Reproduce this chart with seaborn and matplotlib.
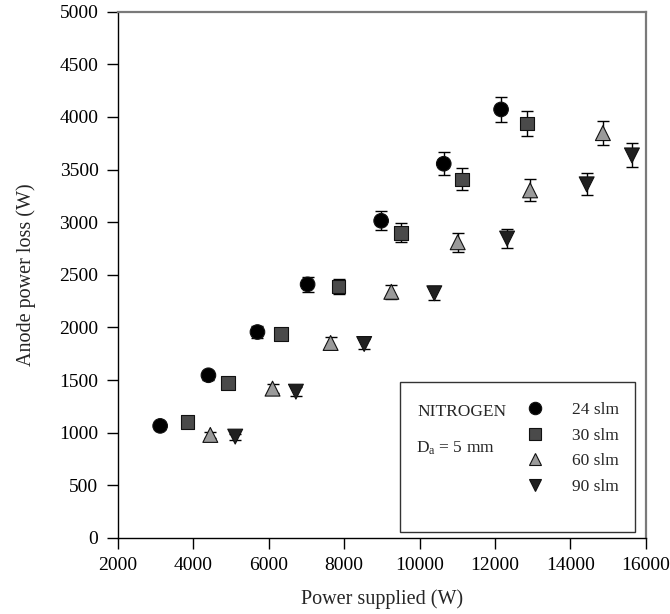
import numpy as np
import pandas as pd
import matplotlib
matplotlib.use("Agg")
import matplotlib.pyplot as plt
import seaborn as sns
from matplotlib.patches import Rectangle

# ---- data ----
flows = ["24 slm", "30 slm", "60 slm", "90 slm"]

P24 = [3120, 4400, 5700, 7030, 8980, 10640, 12160]
L24 = [1064, 1545, 1956, 2409, 3013, 3555, 4071]
E24 = [30, 45, 55, 70, 90, 108, 122]

P30 = [3840, 4920, 6330, 7850, 9500, 11130, 12850]
L30 = [1099, 1469, 1937, 2390, 2898, 3406, 3937]
E30 = [32, 44, 58, 72, 90, 105, 119]

P60 = [4450, 6100, 7640, 9250, 11010, 12930, 14860]
L60 = [978, 1418, 1852, 2338, 2809, 3302, 3846]
E60 = [28, 42, 54, 68, 90, 105, 117]

P90 = [5110, 6720, 8530, 10390, 12320, 14430, 15630]
L90 = [962, 1389, 1842, 2324, 2844, 3359, 3634]
E90 = [28, 40, 52, 68, 87, 105, 114]

xticks = [2000, 4000, 6000, 8000, 10000, 12000, 14000, 16000]
yticks = [0, 500, 1000, 1500, 2000, 2500, 3000, 3500, 4000, 4500, 5000]

series = {
    "24 slm": (P24, L24, E24),
    "30 slm": (P30, L30, E30),
    "60 slm": (P60, L60, E60),
    "90 slm": (P90, L90, E90),
}
rows = []
for f in flows:
    P, L, E = series[f]
    for p, l, e in zip(P, L, E):
        rows.append({"power": p, "loss": l, "err": e, "flow": f})
df = pd.DataFrame(rows)

palette = {"24 slm": "#000000", "30 slm": "#4a4a4a", "60 slm": "#9a9a9a", "90 slm": "#202020"}
markers = {"24 slm": "o", "30 slm": "s", "60 slm": "^", "90 slm": "v"}
sizes = {"24 slm": 110, "30 slm": 95, "60 slm": 115, "90 slm": 115}

# ---- style ----
sns.set_style("ticks")
plt.rcParams["font.family"] = ["Liberation Serif", "DejaVu Serif"]
plt.rcParams["mathtext.fontset"] = "custom"
plt.rcParams["mathtext.rm"] = "Liberation Serif"
plt.rcParams["mathtext.it"] = "Liberation Serif:italic"

fig = plt.figure(figsize=(6.7, 6.14), dpi=100)
ax = fig.add_axes([0.176, 0.124, 0.788, 0.857])

for f in flows:
    d = df[df["flow"] == f]
    ax.errorbar(d["power"], d["loss"], yerr=d["err"], fmt="none",
                ecolor="black", elinewidth=1.0, capsize=4, capthick=1.0, zorder=2)

sns.scatterplot(data=df, x="power", y="loss", hue="flow", style="flow",
                size="flow", sizes=sizes, palette=palette, markers=markers,
                hue_order=flows, style_order=flows, size_order=flows,
                edgecolor="#111111", linewidth=0.8, ax=ax, zorder=3, legend="full")

ax.set_xlim(2000, 16000)
ax.set_ylim(0, 5000)
ax.set_xticks(xticks)
ax.set_yticks(yticks)
ax.set_xticklabels([str(t) for t in xticks])
ax.set_yticklabels([str(t) for t in yticks])
ax.tick_params(axis="both", direction="out", length=8, width=1, labelsize=14,
               colors="black", pad=6, top=False, right=False)
ax.set_xlabel("Power supplied (W)", fontsize=14.5, labelpad=11)
ax.set_ylabel("Anode power loss (W)", fontsize=14.5, labelpad=17)

for s in ["left", "bottom"]:
    ax.spines[s].set_color("black")
    ax.spines[s].set_linewidth(1.0)
for s in ["top", "right"]:
    ax.spines[s].set_visible(True)
    ax.spines[s].set_color("#7a7a7a")
    ax.spines[s].set_linewidth(1.6)

# ---- legend box ----
handles, labels = ax.get_legend_handles_labels()
hmap = dict(zip(labels, handles))
if ax.get_legend():
    ax.get_legend().remove()
ax.add_patch(Rectangle((0.534, 0.0114), 0.445, 0.285, transform=ax.transAxes,
                       facecolor="white", edgecolor="#333333", linewidth=1.0, zorder=4))
ax.text(0.568, 0.239, "NITROGEN", transform=ax.transAxes, fontsize=12.5,
        va="center", ha="left", zorder=5)
ax.text(0.564, 0.171, r"D$_\mathrm{a}$ = 5 mm", transform=ax.transAxes, fontsize=12.5,
        va="center", ha="left", zorder=5)
leg = ax.legend([hmap[f] for f in flows], flows, loc="upper left",
                bbox_to_anchor=(0.758, 0.275), frameon=False, fontsize=12.5,
                handlelength=1.0, handletextpad=1.6, labelspacing=0.55,
                borderpad=0.0, markerscale=0.85)
leg.set_zorder(6)

fig.savefig("out.png", dpi=100)
